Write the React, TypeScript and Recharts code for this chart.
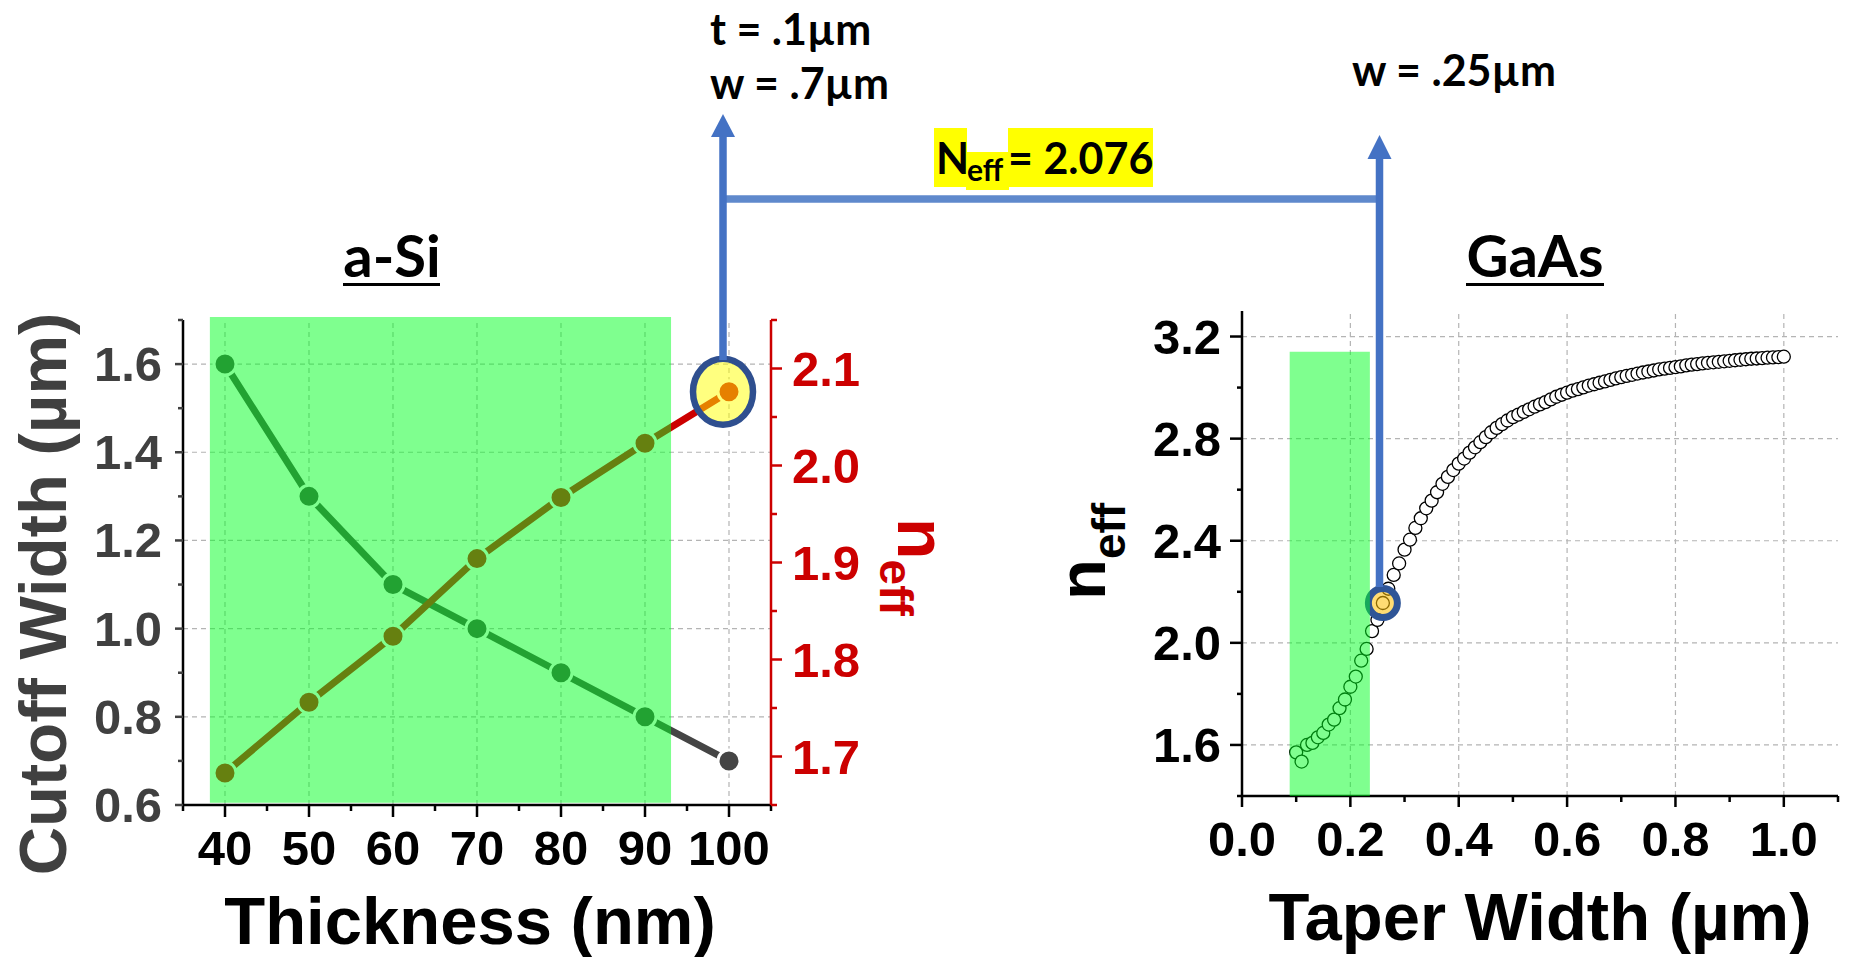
import React from "react";
import {
  LineChart,
  Line,
  ScatterChart,
  Scatter,
  XAxis,
  YAxis,
  ReferenceLine,
  ReferenceArea,
  ReferenceDot,
} from "recharts";

// a-Si strip: cutoff width (left axis) and n_eff (right axis) vs thickness
const thickness = [40, 50, 60, 70, 80, 90, 100];
const cutoffWidth = [1.6, 1.3, 1.1, 1.0, 0.9, 0.8, 0.7];
const neffSi = [1.683, 1.756, 1.824, 1.904, 1.967, 2.023, 2.076];
const siWindow = [38.2, 93.1];

const thicknessMajor = [40, 50, 60, 70, 80, 90, 100];
const thicknessMinor = [35, 45, 55, 65, 75, 85, 95, 105];
const widthMajor = [0.6, 0.8, 1.0, 1.2, 1.4, 1.6];
const widthMinor = [0.7, 0.9, 1.1, 1.3, 1.5, 1.7];
const neffSiMajor = [1.7, 1.8, 1.9, 2.0, 2.1];
const neffSiMinor = [1.65, 1.75, 1.85, 1.95, 2.05, 2.15];

// GaAs taper: n_eff vs taper width
const taperWidth = [
  0.10, 0.11, 0.12, 0.13, 0.14, 0.15, 0.16, 0.17, 0.18, 0.19,
  0.20, 0.21, 0.22, 0.23, 0.24, 0.25, 0.26, 0.27, 0.28, 0.29,
  0.30, 0.31, 0.32, 0.33, 0.34, 0.35, 0.36, 0.37, 0.38, 0.39,
  0.40, 0.41, 0.42, 0.43, 0.44, 0.45, 0.46, 0.47, 0.48, 0.49,
  0.50, 0.51, 0.52, 0.53, 0.54, 0.55, 0.56, 0.57, 0.58, 0.59,
  0.60, 0.61, 0.62, 0.63, 0.64, 0.65, 0.66, 0.67, 0.68, 0.69,
  0.70, 0.71, 0.72, 0.73, 0.74, 0.75, 0.76, 0.77, 0.78, 0.79,
  0.80, 0.81, 0.82, 0.83, 0.84, 0.85, 0.86, 0.87, 0.88, 0.89,
  0.90, 0.91, 0.92, 0.93, 0.94, 0.95, 0.96, 0.97, 0.98, 0.99,
  1.00,
];
const neffGaAs = [
  1.571, 1.535, 1.600, 1.608, 1.630, 1.647, 1.680, 1.699, 1.744, 1.778,
  1.828, 1.868, 1.930, 1.976, 2.046, 2.090, 2.156, 2.212, 2.266, 2.311,
  2.365, 2.404, 2.450, 2.488, 2.527, 2.557, 2.590, 2.623, 2.650, 2.677,
  2.702, 2.722, 2.745, 2.766, 2.786, 2.806, 2.825, 2.842, 2.857, 2.871,
  2.884, 2.894, 2.905, 2.915, 2.925, 2.934, 2.943, 2.954, 2.964, 2.972,
  2.980, 2.988, 2.994, 3.001, 3.008, 3.013, 3.019, 3.024, 3.030, 3.036,
  3.041, 3.046, 3.050, 3.055, 3.059, 3.063, 3.067, 3.071, 3.074, 3.077,
  3.080, 3.083, 3.087, 3.090, 3.092, 3.095, 3.097, 3.099, 3.101, 3.103,
  3.105, 3.107, 3.109, 3.111, 3.113, 3.114, 3.115, 3.117, 3.118, 3.119,
  3.121,
];
const gaasPick = 0.26;
const gaasWindowX = [0.088, 0.236];
const gaasWindowY = [1.4, 3.14];

const taperMajor = [0, 0.2, 0.4, 0.6, 0.8, 1.0];
const taperMinor = [0.1, 0.3, 0.5, 0.7, 0.9, 1.1];
const gaasMajor = [1.6, 2.0, 2.4, 2.8, 3.2];
const gaasMinor = [1.4, 1.8, 2.2, 2.6, 3.0];

const siRows = thickness.map((t, i) => ({ t, w: cutoffWidth[i], n: neffSi[i] }));
const gaasRows = taperWidth.map((w, i) => ({ w, n: neffGaAs[i] }));

const numFont = "'Liberation Sans', Arial, sans-serif";
const noteFont = "Lato, 'Open Sans', sans-serif";
const red = "#cc0000";
const grey = "#404040";
const blue = "#4472c4";

const merge = (a: number[], b: number[]) => [...a, ...b].sort((p, q) => p - q);
const has = (list: number[], v: number) => list.some((m) => Math.abs(m - v) < 1e-6);

type Side = "bottom" | "top" | "left" | "right";
interface TickOpts {
  major: number[];
  majorLen: number;
  minorLen: number;
  inward?: boolean;
  color?: string;
  digits?: number;
}

// tick mark + optional label, drawn from the axis line position (tickSize/tickMargin = 0)
function makeTick(side: Side, o: TickOpts) {
  return (props: any) => {
    const { x, y, payload } = props;
    const v = payload.value as number;
    const major = has(o.major, v);
    const len = major ? o.majorLen : o.minorLen;
    const dir = o.inward ? -1 : 1;
    const color = o.color ?? "#000";
    let x2 = x;
    let y2 = y;
    if (side === "bottom") y2 = y + dir * len;
    if (side === "top") y2 = y - dir * len;
    if (side === "left") x2 = x - dir * len;
    if (side === "right") x2 = x + dir * len;
    let label = null;
    if (major && o.digits !== undefined) {
      const txt = v.toFixed(o.digits);
      const common = { fontFamily: numFont, fontWeight: 700, fontSize: 49, fill: color };
      if (side === "bottom")
        label = <text x={x} y={y + 60} textAnchor="middle" {...common}>{txt}</text>;
      if (side === "left")
        label = <text x={x - 21} y={y + 17} textAnchor="end" {...common}>{txt}</text>;
      if (side === "right")
        label = <text x={x + 21} y={y + 17} textAnchor="start" {...common}>{txt}</text>;
    }
    return (
      <g>
        <line x1={x} y1={y} x2={x2} y2={y2} stroke={color} strokeWidth={2.5} />
        {label}
      </g>
    );
  };
}

const axisLine = { stroke: "#000", strokeWidth: 2.5 };
const gridStyle = { stroke: "#b4b4b4", strokeWidth: 1.2, strokeDasharray: "5 4" };

const SiMarker = (p: any) => (
  <ellipse cx={p.cx - 6} cy={p.cy} rx={30} ry={33} fill="#ffff00" fillOpacity={0.5}
    stroke="#2f4f8f" strokeWidth={6.5} />
);

const GaAsMarker = (p: any) => (
  <circle cx={p.cx} cy={p.cy} r={14.5} fill="#ffc000" fillOpacity={0.55}
    stroke="#2f5597" strokeWidth={7} />
);

const OpenCircle = (p: any) => (
  <circle cx={p.cx} cy={p.cy} r={6.5} fill="#fff" stroke="#000" strokeWidth={1.3} />
);

function SiChart() {
  return (
    <LineChart width={900} height={957} data={siRows}
      margin={{ top: 320, right: 0, bottom: 0, left: 0 }}>
      {thicknessMajor.map((v) => (
        <ReferenceLine key={"gx" + v} x={v} xAxisId="b" yAxisId="w" {...gridStyle} zIndex={-100} />
      ))}
      {widthMajor.slice(1).map((v) => (
        <ReferenceLine key={"gy" + v} y={v} xAxisId="b" yAxisId="w" {...gridStyle} zIndex={-100} />
      ))}
      <XAxis xAxisId="b" dataKey="t" type="number" domain={[35, 105]} allowDataOverflow
        ticks={merge(thicknessMajor, thicknessMinor)} interval={0} height={152}
        tickSize={0} tickMargin={0} tickLine={false} axisLine={axisLine}
        tick={makeTick("bottom", { major: thicknessMajor, majorLen: 12, minorLen: 6, digits: 0 })} />
      <XAxis xAxisId="t" orientation="top" type="number" domain={[35, 105]} allowDataOverflow
        ticks={merge(thicknessMajor, thicknessMinor)} interval={0} height={0}
        tickSize={0} tickMargin={0} tickLine={false} axisLine={axisLine}
        tick={makeTick("top", { major: thicknessMajor, majorLen: 10, minorLen: 5, inward: true })} />
      <YAxis yAxisId="w" type="number" domain={[0.6, 1.7]} allowDataOverflow
        ticks={merge(widthMajor, widthMinor)} interval={0} width={183}
        tickSize={0} tickMargin={0} tickLine={false} axisLine={axisLine}
        tick={makeTick("left", { major: widthMajor, majorLen: 8, minorLen: 5, color: grey, digits: 1 })} />
      <YAxis yAxisId="n" orientation="right" type="number" domain={[1.65, 2.15]} allowDataOverflow
        ticks={merge(neffSiMajor, neffSiMinor)} interval={0} width={129}
        tickSize={0} tickMargin={0} tickLine={false} axisLine={{ stroke: red, strokeWidth: 2.5 }}
        tick={makeTick("right", { major: neffSiMajor, majorLen: 11, minorLen: 6, color: red, digits: 1 })} />
      <Line xAxisId="b" yAxisId="w" dataKey="w" stroke="#454545" strokeWidth={7}
        dot={{ r: 11, fill: "#454545", stroke: "#fff", strokeWidth: 3 }}
        isAnimationActive={false} />
      <Line xAxisId="b" yAxisId="n" dataKey="n" stroke={red} strokeWidth={7}
        dot={{ r: 11, fill: red, stroke: "#fff", strokeWidth: 3 }}
        isAnimationActive={false} />
      <ReferenceDot xAxisId="b" yAxisId="n" x={thickness[thickness.length - 1]}
        y={neffSi[neffSi.length - 1]} shape={SiMarker} zIndex={650} />
      <ReferenceArea xAxisId="b" yAxisId="w" x1={siWindow[0]} x2={siWindow[1]} y1={0.605} y2={1.707}
        ifOverflow="visible" fill="#00ff20" fillOpacity={0.5} stroke="none" zIndex={700} />
    </LineChart>
  );
}

function GaAsChart() {
  const pickY = neffGaAs[taperWidth.indexOf(gaasPick)];
  return (
    <ScatterChart width={852} height={957}
      margin={{ top: 311, right: 14, bottom: 0, left: 0 }}>
      {taperMajor.slice(1).map((v) => (
        <ReferenceLine key={"gx" + v} x={v} xAxisId="b" yAxisId="l" {...gridStyle} zIndex={-100} />
      ))}
      {gaasMajor.map((v) => (
        <ReferenceLine key={"gy" + v} y={v} xAxisId="b" yAxisId="l" {...gridStyle} zIndex={-100} />
      ))}
      <XAxis xAxisId="b" dataKey="w" type="number" domain={[0, 1.1]} allowDataOverflow
        ticks={merge(taperMajor, taperMinor)} interval={0} height={161}
        tickSize={0} tickMargin={0} tickLine={false} axisLine={axisLine}
        tick={makeTick("bottom", { major: taperMajor, majorLen: 11, minorLen: 6, digits: 1 })} />
      <XAxis xAxisId="t" orientation="top" type="number" domain={[0, 1.1]} allowDataOverflow
        ticks={merge(taperMajor, taperMinor)} interval={0} height={0}
        tickSize={0} tickMargin={0} tickLine={false} axisLine={axisLine}
        tick={makeTick("top", { major: taperMajor, majorLen: 6, minorLen: 5, inward: true })} />
      <YAxis yAxisId="l" dataKey="n" type="number" domain={[1.4, 3.3]} allowDataOverflow
        ticks={merge(gaasMajor, gaasMinor)} interval={0} width={242}
        tickSize={0} tickMargin={0} tickLine={false} axisLine={axisLine}
        tick={makeTick("left", { major: gaasMajor, majorLen: 12, minorLen: 5, digits: 1 })} />
      <YAxis yAxisId="r" orientation="right" type="number" domain={[1.4, 3.3]} allowDataOverflow
        ticks={merge(gaasMajor, gaasMinor)} interval={0} width={0}
        tickSize={0} tickMargin={0} tickLine={false} axisLine={axisLine}
        tick={makeTick("right", { major: gaasMajor, majorLen: 10, minorLen: 5, inward: true })} />
      <Scatter xAxisId="b" yAxisId="l" data={gaasRows} dataKey="n" shape={OpenCircle}
        isAnimationActive={false} />
      <ReferenceDot xAxisId="b" yAxisId="l" x={gaasPick} y={pickY} shape={GaAsMarker} zIndex={650} />
      <ReferenceArea xAxisId="b" yAxisId="l" x1={gaasWindowX[0]} x2={gaasWindowX[1]}
        y1={gaasWindowY[0]} y2={gaasWindowY[1]} fill="#00ff20" fillOpacity={0.5}
        stroke="none" zIndex={700} />
    </ScatterChart>
  );
}

function Arrow({ x, tip, base, bottom }: { x: number; tip: number; base: number; bottom: number }) {
  return (
    <g>
      <line x1={x} y1={base - 1} x2={x} y2={bottom} stroke={blue} strokeWidth={7.5} />
      <polygon points={`${x - 12},${base} ${x + 12},${base} ${x},${tip}`} fill={blue} />
    </g>
  );
}

function Notes() {
  const note = { fontFamily: noteFont, fontWeight: 700, fill: "#000" };
  const axisTitle = { fontFamily: numFont, fontWeight: 700, fontSize: 67 };
  return (
    <svg width={1852} height={957}
      style={{ position: "absolute", left: 0, top: 0, pointerEvents: "none" }}>
      {/* panel titles */}
      <text x={392} y={277} textAnchor="middle" fontSize={58} {...note}>a-Si</text>
      <rect x={343} y={283} width={97} height={3} fill="#000" />
      <text x={1535} y={277} textAnchor="middle" fontSize={58} {...note}>GaAs</text>
      <rect x={1466} y={283} width={138} height={3} fill="#000" />

      {/* axis titles */}
      <text transform="translate(66,594) rotate(-90)" textAnchor="middle" fill={grey} {...axisTitle}>
        Cutoff Width (µm)
      </text>
      <text x={470} y={944} textAnchor="middle" fill="#000" {...axisTitle}>Thickness (nm)</text>
      <text transform="translate(898,518) rotate(90)" fill={red} {...axisTitle} fontSize={68}>
        n<tspan fontSize={46} dy={18}>eff</tspan>
      </text>
      <text transform="translate(1105,600) rotate(-90)" fill="#000" {...axisTitle}>
        n<tspan fontSize={46} dy={20}>eff</tspan>
      </text>
      <text x={1540} y={940} textAnchor="middle" fill="#000" {...axisTitle}>Taper Width (µm)</text>

      {/* matching connector between the two panels */}
      <line x1={720} y1={199} x2={1383} y2={199} stroke="#5f89cc" strokeWidth={7.5} />
      <Arrow x={723} tip={114} base={137} bottom={360} />
      <Arrow x={1379.5} tip={135} base={159} bottom={587} />

      <text x={710} y={45} fontSize={43} {...note}>t = .1µm</text>
      <text x={710} y={99} fontSize={43} {...note}>w = .7µm</text>
      <text x={1352} y={86} fontSize={43} {...note}>w = .25µm</text>

      <rect x={934} y={128} width={33} height={59} fill="#ffff00" />
      <rect x={966} y={152} width={43} height={38} fill="#ffff00" />
      <rect x={1008} y={128} width={145} height={59} fill="#ffff00" />
      <text x={936} y={174} fontSize={43} {...note}>N</text>
      <text x={967} y={181} fontSize={30} {...note}>eff</text>
      <text x={1008} y={174} fontSize={43} {...note}>= 2.076</text>
    </svg>
  );
}

export default function App() {
  return (
    <div style={{ position: "absolute", left: 0, top: 0, width: 1852, height: 957,
      background: "#fff", overflow: "hidden" }}>
      <div style={{ position: "absolute", left: 0, top: 0 }}>
        <SiChart />
      </div>
      <div style={{ position: "absolute", left: 1000, top: 0 }}>
        <GaAsChart />
      </div>
      <Notes />
    </div>
  );
}
